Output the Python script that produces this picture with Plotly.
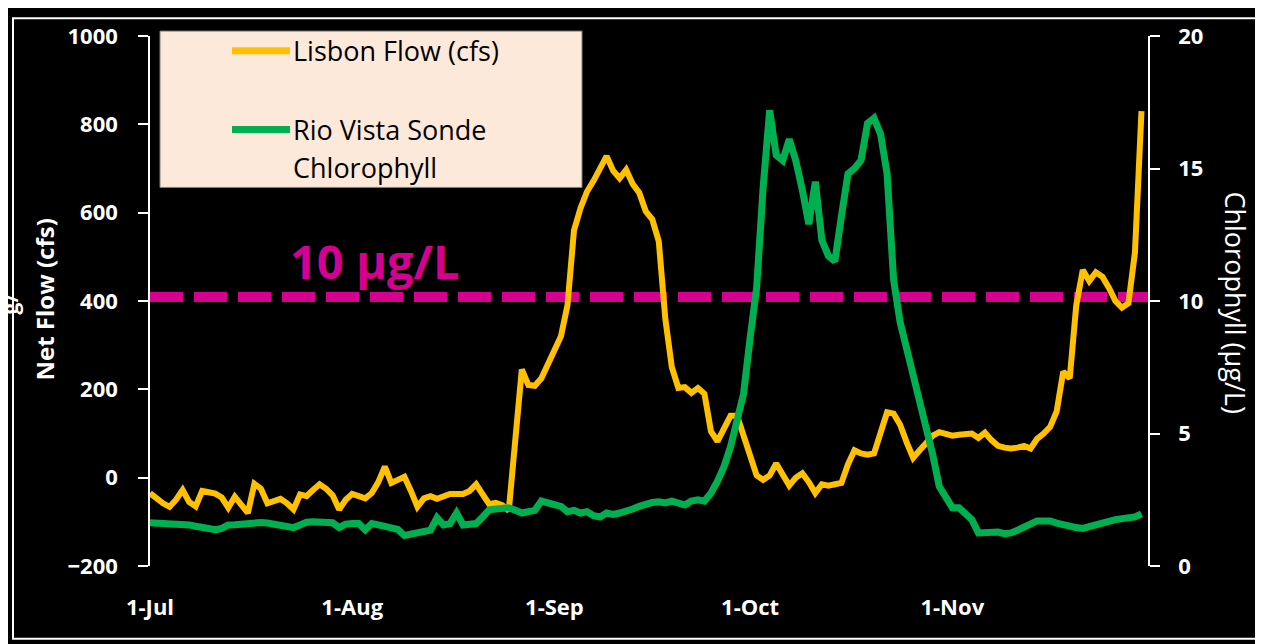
import pandas as pd
import plotly.graph_objects as go

# Daily series, 1 Jul - 30 Nov.
START_DATE = "2018-07-01"

LISBON_FLOW = [
    -35, -48, -58, -66, -50, -28, -55, -65, -30, -33,
    -36, -45, -68, -43, -62, -80, -14, -25, -58, -52,
    -48, -58, -72, -38, -42, -28, -15, -25, -40, -72,
    -50, -37, -43, -47, -35, -10, 25, -12, -5, 2,
    -30, -66, -47, -42, -48, -42, -37, -37, -37, -30,
    -15, -38, -60, -57, -62, -75, 100, 245, 210, 208,
    225, 258, 290, 320, 390, 560, 610, 648, 672, 700,
    728, 695, 678, 697, 665, 645, 603, 585, 535, 360,
    250, 203, 205, 192, 203, 190, 105, 82, 110, 140,
    140, 95, 45, 5, -5, 5, 32, 5, -18, 0,
    10, -10, -35, -15, -18, -15, -12, 30, 62, 55,
    52, 55, 100, 148, 145, 120, 80, 45, 62, 80,
    95, 103, 100, 95, 97, 100, 100, 90, 102, 85,
    72, 68, 66, 68, 72, 66, 88, 100, 115, 150,
    240, 225, 390, 470, 445, 465, 455, 430, 400, 385,
    395, 510, 830,
]

RIO_VISTA_CHL = [
    1.63, 1.62, 1.62, 1.60, 1.58, 1.56, 1.55, 1.50, 1.45, 1.40,
    1.37, 1.42, 1.55, 1.56, 1.58, 1.62, 1.67, 1.64, 1.62, 1.58,
    1.48, 1.47, 1.45, 1.55, 1.65, 1.67, 1.65, 1.63, 1.63, 1.45,
    1.58, 1.60, 1.60, 1.36, 1.60, 1.55, 1.48, 1.42, 1.38, 1.15,
    1.20, 1.22, 1.26, 1.35, 1.82, 1.55, 1.60, 2.00, 1.55, 1.57,
    1.60, 1.85, 2.12, 2.15, 2.17, 2.20, 2.10, 2.00, 2.05, 2.10,
    2.45, 2.40, 2.30, 2.25, 2.05, 2.10, 2.00, 2.05, 1.90, 1.85,
    2.00, 1.95, 2.00, 2.05, 2.15, 2.25, 2.35, 2.40, 2.42, 2.38,
    2.45, 2.35, 2.30, 2.45, 2.50, 2.45, 2.75, 3.20, 3.75, 4.50,
    5.40, 6.50, 8.60, 10.5, 14.3, 17.2, 15.5, 15.3, 16.1, 15.3,
    14.2, 12.9, 14.5, 12.3, 11.7, 11.5, 13.2, 14.8, 15.0, 15.3,
    16.7, 16.9, 16.3, 14.8, 10.8, 9.2, 8.2, 7.2, 6.3, 5.3,
    4.2, 3.0, 2.6, 2.2, 2.2, 1.95, 1.75, 1.25, 1.27, 1.30,
    1.28, 1.22, 1.25, 1.35, 1.45, 1.60, 1.70, 1.70, 1.70, 1.62,
    1.55, 1.52, 1.45, 1.42, 1.50, 1.55, 1.60, 1.68, 1.75, 1.78,
    1.78, 1.85, 1.97,
]

THRESHOLD_CHL = 10.15  # "10 µg/L" reference line on the chlorophyll axis

TICK_DATES = ["2018-07-01", "2018-08-01", "2018-09-01", "2018-10-01", "2018-11-01"]
TICK_LABELS = ["1-Jul", "1-Aug", "1-Sep", "1-Oct", "1-Nov"]

dates = pd.date_range(START_DATE, periods=len(LISBON_FLOW), freq="D")

FONT = "Open Sans"
W, H = 1263, 644
OFF = 8  # the page puts the figure 8px in from the top-left corner
# plot area in page pixels: x 150..1148, y 27..566
L, T = 150 - OFF, 27 - OFF
R, B = W - (1148 - OFF), H - (566 - OFF)


def px(x):
    """Page pixel x -> paper x."""
    return (x - OFF - L) / (W - L - R)


def py(y):
    """Page pixel y -> paper y."""
    return (H - B - (y - OFF)) / (H - T - B)


fig = go.Figure()

fig.add_trace(
    go.Scatter(
        x=dates, y=RIO_VISTA_CHL, yaxis="y2", mode="lines",
        line=dict(color="#00B050", width=7),
        name="Rio Vista Sonde Chlorophyll",
    )
)
fig.add_trace(
    go.Scatter(
        x=dates, y=LISBON_FLOW, mode="lines",
        line=dict(color="#FFC000", width=6),
        name="Lisbon Flow (cfs)",
    )
)

shapes = [
    # 10 µg/L threshold
    dict(type="line", xref="paper", yref="y2", x0=0, x1=1,
         y0=THRESHOLD_CHL, y1=THRESHOLD_CHL, layer="below",
         line=dict(color="#D5008F", width=10, dash="33px,11px")),
    # outer frame
    dict(type="rect", xref="paper", yref="paper",
         x0=px(13), x1=px(1258), y0=py(640), y1=py(OFF + 1),
         line=dict(color="white", width=2)),
    # legend box
    dict(type="rect", xref="paper", yref="paper",
         x0=px(160), x1=px(582), y0=py(181), y1=py(22),
         fillcolor="#FDE9D9", line=dict(color="#7F7F7F", width=1)),
    dict(type="line", xref="paper", yref="paper",
         x0=px(232), x1=px(290), y0=py(42), y1=py(42),
         line=dict(color="#FFC000", width=7)),
    dict(type="line", xref="paper", yref="paper",
         x0=px(232), x1=px(290), y0=py(122), y1=py(122),
         line=dict(color="#00B050", width=7)),
]

legend_font = dict(family=FONT, size=27, color="black")
annotations = [
    dict(text="Lisbon Flow (cfs)", x=px(291), y=py(42), xanchor="left",
         yanchor="middle", font=legend_font),
    dict(text="Rio Vista Sonde", x=px(291), y=py(122), xanchor="left",
         yanchor="middle", font=legend_font),
    dict(text="Chlorophyll", x=px(291), y=py(161), xanchor="left",
         yanchor="middle", font=legend_font),
    dict(text="<b>10 µg/L</b>", x=px(288), y=py(256), xanchor="left",
         yanchor="middle", font=dict(family=FONT, size=47, color="#D5008F")),
    dict(text="<b>Net Flow (cfs)</b>", x=px(45), y=py(295), textangle=-90,
         xanchor="center", yanchor="middle",
         font=dict(family=FONT, size=24, color="white")),
    dict(text="Chlorophyll (µg/L)", x=px(1236), y=py(298), textangle=90,
         xanchor="center", yanchor="middle",
         font=dict(family=FONT, size=27, color="white")),
    dict(text="<b>g/</b>", x=px(10), y=py(300), textangle=-90,
         xanchor="center", yanchor="middle",
         font=dict(family=FONT, size=21, color="white")),
]
for a in annotations:
    a.update(xref="paper", yref="paper", showarrow=False)

tick_font = dict(family=FONT, size=22, color="white", weight="bold")

fig.update_layout(
    width=W, height=H,
    margin=dict(l=L, r=R, t=T, b=B),
    paper_bgcolor="black",
    plot_bgcolor="black",
    showlegend=False,
    shapes=shapes,
    annotations=annotations,
    xaxis=dict(
        range=["2018-07-01", "2018-12-01"],
        tickvals=TICK_DATES, ticktext=TICK_LABELS,
        showgrid=False, zeroline=False, showline=False, ticks="",
        tickfont=tick_font, ticklabelstandoff=26,
    ),
    yaxis=dict(
        range=[-200, 1000], dtick=200,
        showgrid=False, zeroline=False,
        showline=True, linecolor="white", linewidth=1.5,
        ticks="outside", ticklen=10, tickcolor="white", tickwidth=1.5,
        tickfont=tick_font, ticklabelstandoff=16,
    ),
    yaxis2=dict(
        range=[0, 20], dtick=5, overlaying="y", side="right",
        showgrid=False, zeroline=False,
        showline=True, linecolor="white", linewidth=1.5,
        ticks="outside", ticklen=10, tickcolor="white", tickwidth=1.5,
        tickfont=tick_font, ticklabelstandoff=14,
    ),
)

fig.write_html("out.html")
